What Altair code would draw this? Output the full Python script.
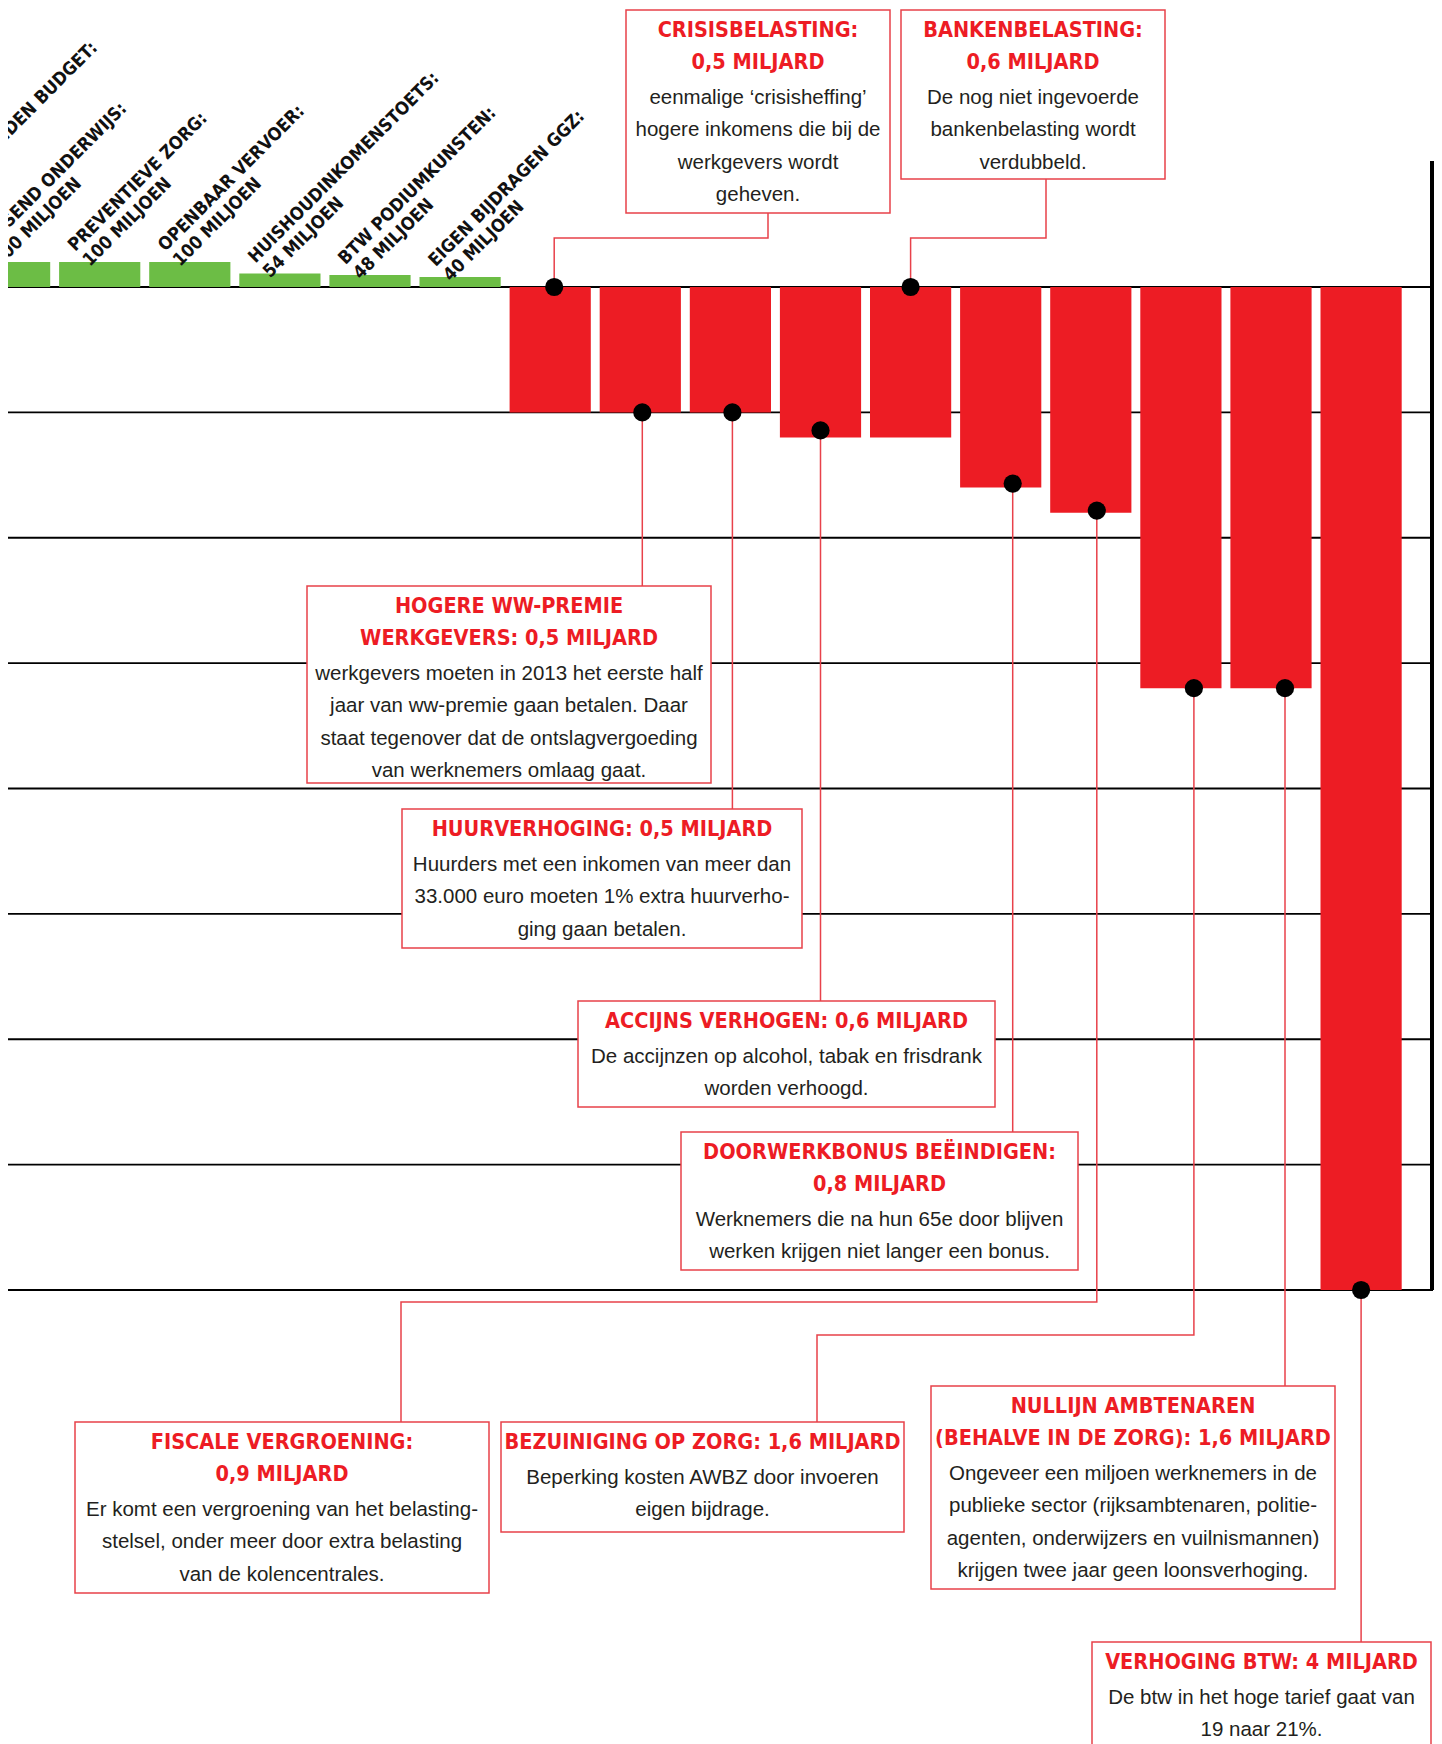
import altair as alt
import pandas as pd

# ---------------- data ----------------
categories = ["PERSOONSGEBONDEN BUDGET", "PASSEND ONDERWIJS", "PREVENTIEVE ZORG", "OPENBAAR VERVOER",
              "HUISHOUDINKOMENSTOETS", "BTW PODIUMKUNSTEN", "EIGEN BIJDRAGEN GGZ",
              "CRISISBELASTING", "HOGERE WW-PREMIE WERKGEVERS", "HUURVERHOGING", "ACCIJNS VERHOGEN",
              "BANKENBELASTING", "DOORWERKBONUS BEËINDIGEN", "FISCALE VERGROENING",
              "BEZUINIGING OP ZORG", "NULLIJN AMBTENAREN", "VERHOGING BTW"]
# miljard euro (positive = extra uitgaven, negative = lastenverzwaring)
values = [0.1, 0.1, 0.1, 0.1, 0.054, 0.048, 0.04,
          -0.5, -0.5, -0.5, -0.6, -0.6, -0.8, -0.9, -1.6, -1.6, -4.0]

green_line1 = ["PERSOONSGEBONDEN BUDGET:", "PASSEND ONDERWIJS:", "PREVENTIEVE ZORG:", "OPENBAAR VERVOER:",
               "HUISHOUDINKOMENSTOETS:", "BTW PODIUMKUNSTEN:", "EIGEN BIJDRAGEN GGZ:"]
green_line2 = ["", "100 MILJOEN", "100 MILJOEN", "100 MILJOEN", "54 MILJOEN", "48 MILJOEN", "40 MILJOEN"]

ann_category = ["CRISISBELASTING", "BANKENBELASTING", "HOGERE WW-PREMIE WERKGEVERS", "HUURVERHOGING",
                "ACCIJNS VERHOGEN", "DOORWERKBONUS BEËINDIGEN", "FISCALE VERGROENING",
                "BEZUINIGING OP ZORG", "NULLIJN AMBTENAREN", "VERHOGING BTW"]
ann_titles = [
    ["CRISISBELASTING:", "0,5 MILJARD"],
    ["BANKENBELASTING:", "0,6 MILJARD"],
    ["HOGERE WW-PREMIE", "WERKGEVERS: 0,5 MILJARD"],
    ["HUURVERHOGING: 0,5 MILJARD"],
    ["ACCIJNS VERHOGEN: 0,6 MILJARD"],
    ["DOORWERKBONUS BEËINDIGEN:", "0,8 MILJARD"],
    ["FISCALE VERGROENING:", "0,9 MILJARD"],
    ["BEZUINIGING OP ZORG: 1,6 MILJARD"],
    ["NULLIJN AMBTENAREN", "(BEHALVE IN DE ZORG): 1,6 MILJARD"],
    ["VERHOGING BTW: 4 MILJARD"],
]
ann_bodies = [
    ["eenmalige ‘crisisheffing’", "hogere inkomens die bij de", "werkgevers wordt", "geheven."],
    ["De nog niet ingevoerde", "bankenbelasting wordt", "verdubbeld."],
    ["werkgevers moeten in 2013 het eerste half", "jaar van ww-premie gaan betalen. Daar",
     "staat tegenover dat de ontslagvergoeding", "van werknemers omlaag gaat."],
    ["Huurders met een inkomen van meer dan", "33.000 euro moeten 1% extra huurverho-",
     "ging gaan betalen."],
    ["De accijnzen op alcohol, tabak en frisdrank", "worden verhoogd."],
    ["Werknemers die na hun 65e door blijven", "werken krijgen niet langer een bonus."],
    ["Er komt een vergroening van het belasting-", "stelsel, onder meer door extra belasting",
     "van de kolencentrales."],
    ["Beperking kosten AWBZ door invoeren", "eigen bijdrage."],
    ["Ongeveer een miljoen werknemers in de", "publieke sector (rijksambtenaren, politie-",
     "agenten, onderwijzers en vuilnismannen)", "krijgen twee jaar geen loonsverhoging."],
    ["De btw in het hoge tarief gaat van", "19 naar 21%."],
]

grid_values = [0, -0.5, -1.0, -1.5, -2.0, -2.5, -3.0, -3.5, -4.0]

# ---------------- layout (page pixels) ----------------
W, H = 1426, 1736
MARGIN = 8
PITCH = 90.1          # px per category
X7 = 550.2            # page x of centre of category 7
PPU = 250.75          # px per miljard
Y0 = 287.0            # page y of value 0
BAR_HALF = 0.4506

def xd(px):
    return 7 + (px - X7) / PITCH

def yd(py):
    return (Y0 - py) / PPU

box_left = [626, 901, 307, 402, 578, 681, 75, 501, 931, 1092]
box_right = [890, 1165, 711, 802, 995, 1078, 489, 904, 1335, 1431]
box_top = [10, 10, 586, 809, 1001, 1132, 1422, 1422, 1386, 1642]
box_bottom = [213, 179, 783, 948, 1107, 1270, 1593, 1532, 1589, 1790]
dot_top = [True, True, False, False, False, False, False, False, False, False]
dot_dx = [4, 0, 2, 2, 0, 12, 6, 13, 14, 0]
dot_dy = [0, 0, 0, 0, -7, -4, -2, 0, 0, 0]
elbow_y = [238, 238, None, None, None, None, 1302, 1335, None, None]
elbow_x = [768, 1046, None, None, None, None, 401, 817, None, None]

RED = "#ed1c24"
LINE_RED = "#e8414a"
GREEN = "#6cbd45"
COND = "'DejaVu Sans Condensed', 'DejaVu Sans', sans-serif"
BODY = "'Liberation Sans', Arial, sans-serif"

XDOM = [xd(MARGIN), xd(MARGIN + W)]
YDOM = [yd(MARGIN + H), yd(MARGIN)]
xs = alt.Scale(domain=XDOM, nice=False, zero=False)
ys = alt.Scale(domain=YDOM, nice=False, zero=False)
X = lambda f: alt.X(f, type="quantitative", scale=xs, axis=None)
Y = lambda f: alt.Y(f, type="quantitative", scale=ys, axis=None)

# ---------------- tables ----------------
bars_df = pd.DataFrame({
    "cat": categories,
    "idx": list(range(len(categories))),
    "value": values,
})
bars_df["x1"] = bars_df["idx"] - BAR_HALF
bars_df["x2"] = bars_df["idx"] + BAR_HALF
bars_df["base"] = 0.0
bars_df["kind"] = ["plus" if v > 0 else "min" for v in values]

grid_df = pd.DataFrame({"y": grid_values})
grid_df["x1"] = XDOM[0]
grid_df["x2"] = xd(1433)

axis_df = pd.DataFrame({"x": [xd(1432)], "y1": [yd(161)], "y2": [yd(1290)]})

glab = []
for i in range(len(green_line1)):
    glab.append({
        "x": i - BAR_HALF + 19 / PITCH,
        "y": values[i] + 7 / PPU,
        "label": green_line1[i] + "\n" + green_line2[i],
    })
glab_df = pd.DataFrame(glab)

box_rows, dot_rows, conn_rows, title_rows, body_rows = [], [], [], [], []
for k, cat in enumerate(ann_category):
    i = categories.index(cat)
    box_rows.append({"x1": xd(box_left[k]), "x2": xd(box_right[k]),
                     "y1": yd(box_top[k]), "y2": yd(box_bottom[k])})
    dx = i + dot_dx[k] / PITCH
    dy = (0.0 if dot_top[k] else values[i]) - dot_dy[k] / PPU
    dot_rows.append({"x": dx, "y": dy})
    pts = [(dx, dy)]
    if elbow_y[k] is not None:
        pts.append((dx, yd(elbow_y[k])))
        pts.append((xd(elbow_x[k]), yd(elbow_y[k])))
        end_y = box_bottom[k] if box_top[k] < elbow_y[k] else box_top[k]
        pts.append((xd(elbow_x[k]), yd(end_y)))
    else:
        pts.append((dx, yd(box_top[k])))
    for s, (px_, py_) in enumerate(pts):
        conn_rows.append({"cid": k, "seq": s, "x": px_, "y": py_})
    cx = xd((box_left[k] + box_right[k]) / 2)
    ty = box_top[k] + 21
    for line in ann_titles[k]:
        title_rows.append({"x": cx, "y": yd(ty), "t": line})
        ty += 32
    by = ty - 32 + 35
    for line in ann_bodies[k]:
        body_rows.append({"x": cx, "y": yd(by), "t": line})
        by += 32.3

box_df = pd.DataFrame(box_rows)
dot_df = pd.DataFrame(dot_rows)
conn_df = pd.DataFrame(conn_rows)
title_df = pd.DataFrame(title_rows)
body_df = pd.DataFrame(body_rows)

# ---------------- layers ----------------
grid = alt.Chart(grid_df).mark_rule(color="#000000", strokeWidth=1.8).encode(
    x=X("x1"), x2="x2", y=Y("y"))

axis_line = alt.Chart(axis_df).mark_rule(color="#000000", strokeWidth=4).encode(
    x=X("x"), y=Y("y1"), y2="y2")

bars = alt.Chart(bars_df).mark_rect().encode(
    x=X("x1"), x2="x2", y=Y("value"), y2="base",
    color=alt.Color("kind:N", scale=alt.Scale(domain=["plus", "min"], range=[GREEN, RED]), legend=None))

glabels = alt.Chart(glab_df).mark_text(
    angle=315, align="left", baseline="bottom", font=COND, fontWeight="bold",
    fontSize=18, lineHeight=21, lineBreak="\n", color="#111111").encode(
    x=X("x"), y=Y("y"), text="label:N")

conns = alt.Chart(conn_df).mark_line(color=LINE_RED, strokeWidth=1.5).encode(
    x=X("x"), y=Y("y"), detail="cid:N", order="seq:Q")

boxes = alt.Chart(box_df).mark_rect(fill="white", stroke=LINE_RED, strokeWidth=1.5).encode(
    x=X("x1"), x2="x2", y=Y("y1"), y2="y2")

dots = alt.Chart(dot_df).mark_point(filled=True, color="#000000", size=330, opacity=1).encode(
    x=X("x"), y=Y("y"))

titles = alt.Chart(title_df).mark_text(
    align="center", baseline="middle", font=COND, fontWeight="bold", fontSize=21.5, color=RED).encode(
    x=X("x"), y=Y("y"), text="t:N")

bodies = alt.Chart(body_df).mark_text(
    align="center", baseline="middle", font=BODY, fontSize=20.5, color="#231f20").encode(
    x=X("x"), y=Y("y"), text="t:N")

chart = alt.layer(grid, axis_line, bars, glabels, conns, boxes, dots, titles, bodies).properties(
    width=W, height=H, padding=0,
    autosize=alt.AutoSizeParams(type="none"),
    background="white",
).configure_view(stroke=None)

chart.save("out.html", embed_options={"renderer": "svg", "actions": False})
